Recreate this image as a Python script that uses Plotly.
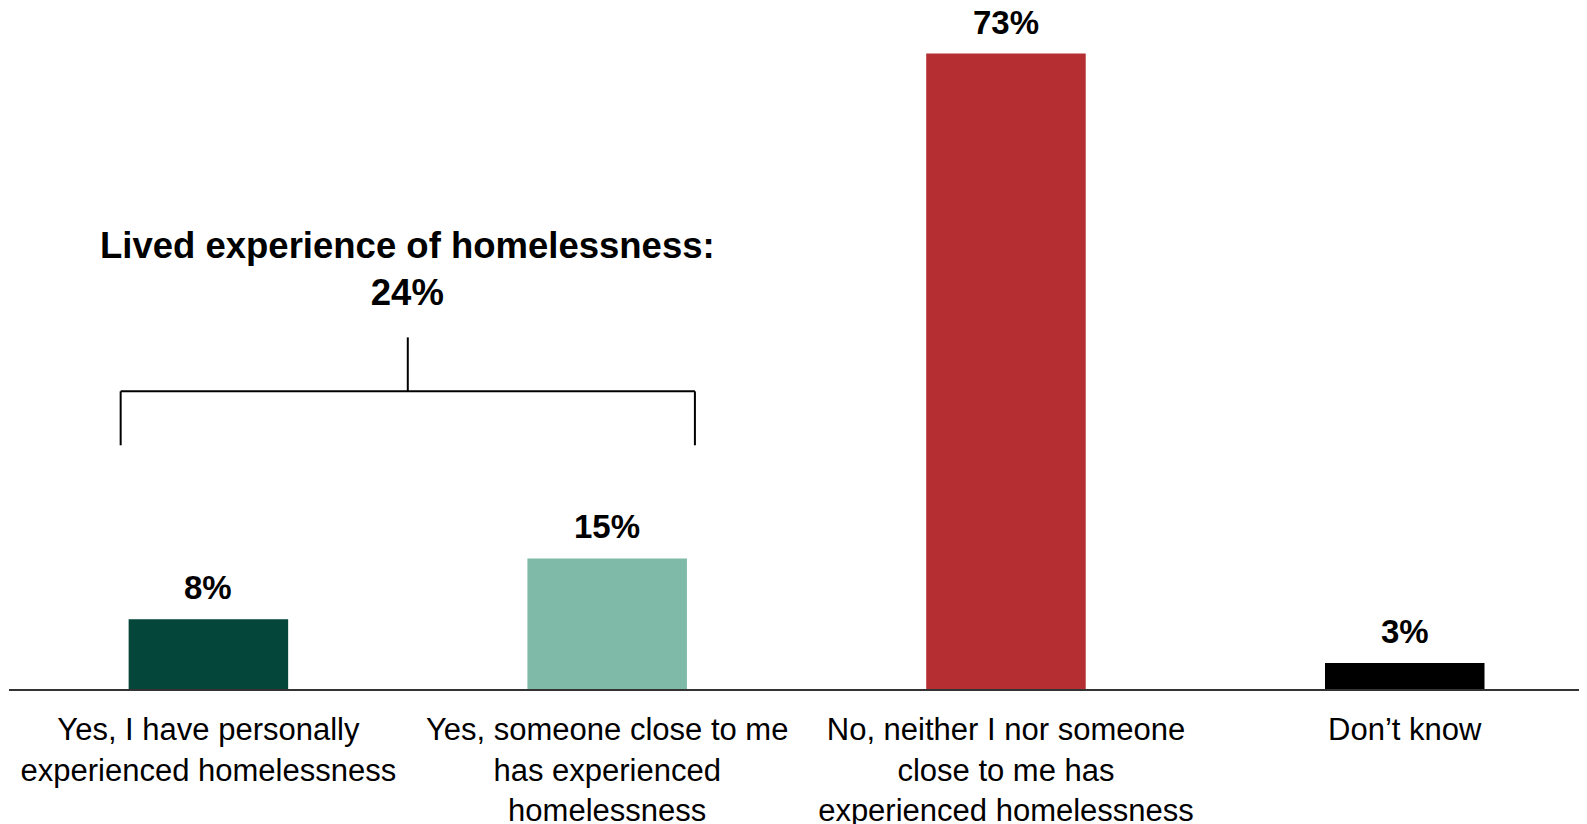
import plotly.graph_objects as go

categories = [
    "Yes, I have personally<br>experienced homelessness",
    "Yes, someone close to me<br>has experienced<br>homelessness",
    "No, neither I nor someone<br>close to me has<br>experienced homelessness",
    "Don\u2019t know",
]
values = [8, 15, 73, 3]
value_labels = ["8%", "15%", "73%", "3%"]
colors = ["#05463a", "#7fbaa8", "#b52e32", "#000000"]

bracket_title = "Lived experience of homelessness:<br>24%"
bracket_levels = {"stem_top": 40.4, "bar": 34.2, "legs": 28.0}

FONT = "Liberation Sans, Arial, sans-serif"

x_idx = list(range(len(categories)))

fig = go.Figure()
fig.add_trace(go.Bar(
    x=x_idx, y=values, marker=dict(color=colors, line=dict(width=0)),
    hoverinfo="skip",
))

for i, (v, t) in enumerate(zip(values, value_labels)):
    fig.add_annotation(x=i, y=v, text=f"<b>{t}</b>", showarrow=False,
                       yanchor="bottom", yshift=11,
                       font=dict(family=FONT, size=33, color="#000"))

# bracket
x0 = x_idx[0] - 0.22
x1 = x_idx[1] + 0.22
xm = (x0 + x1) / 2
line = dict(color="#000", width=2)
fig.add_shape(type="line", x0=x0, x1=x1, y0=bracket_levels["bar"], y1=bracket_levels["bar"], line=line)
fig.add_shape(type="line", x0=x0, x1=x0, y0=bracket_levels["legs"], y1=bracket_levels["bar"], line=line)
fig.add_shape(type="line", x0=x1, x1=x1, y0=bracket_levels["legs"], y1=bracket_levels["bar"], line=line)
fig.add_shape(type="line", x0=xm, x1=xm, y0=bracket_levels["bar"], y1=bracket_levels["stem_top"], line=line)
fig.add_annotation(x=xm, y=bracket_levels["stem_top"], text=f"<b>{bracket_title}</b>",
                   showarrow=False, yanchor="bottom", yshift=22,
                   font=dict(family=FONT, size=36.5, color="#000"))

fig.update_layout(
    width=1579, height=816,
    margin=dict(l=1, r=0, t=0, b=135),
    plot_bgcolor="white", paper_bgcolor="white",
    bargap=0.6, showlegend=False,
    font=dict(family=FONT, color="#000"),
)
fig.update_xaxes(
    range=[-0.5, 3.457], tickmode="array", tickvals=x_idx, ticktext=categories,
    tickfont=dict(family=FONT, size=31, color="#000"), ticks="",
    showline=True, linecolor="#333", linewidth=2, showgrid=False, zeroline=False,
    tickangle=0, ticklabelstandoff=12, automargin=False,
)
fig.update_yaxes(range=[0, 78.24], visible=False, showgrid=False, zeroline=False,
                 automargin=False)

fig.write_html("out.html")
